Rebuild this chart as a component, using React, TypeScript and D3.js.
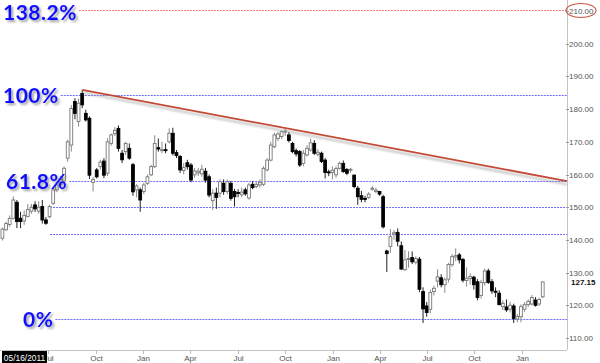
import React, { useEffect, useRef } from "react";
import * as d3 from "d3";

// weekly candles, first week starts Mon 2011-04-04
const firstWeek = new Date(2011, 3, 4);

const opens = [
  140.5, 143.1, 144.7, 146.6, 151.5, 146.6, 145.8, 147.2, 148.8, 150.7,
  148.8, 150.2, 146.1, 147.1, 151.2, 155.3, 157.0, 158.0, 165.0, 169.0,
  182.3, 176.2, 184.8, 178.7, 177.2, 157.6, 161.4, 162.4, 164.1, 160.4,
  169.5, 172.5, 174.1, 166.5, 167.0, 168.0, 163.0, 155.3, 155.3, 154.8,
  157.3, 159.9, 162.4, 168.2, 167.4, 167.6, 170.0, 172.6, 166.7, 165.5,
  161.2, 163.6, 162.9, 159.9, 160.5, 160.2, 161.0, 159.3, 152.0, 154.3,
  154.3, 157.3, 154.8, 157.3, 154.8, 154.5, 153.8, 155.3, 152.8, 157.0,
  156.3, 156.8, 157.0, 161.4, 164.4, 168.5, 171.0, 171.6, 173.0, 172.1,
  169.5, 167.3, 167.0, 163.4, 166.0, 167.5, 169.5, 166.2, 166.5, 164.4,
  160.8, 160.6, 159.9, 161.9, 163.4, 161.5, 161.4, 159.8, 155.8, 153.5,
  152.7, 153.0, 155.5, 154.8, 154.8, 153.2, 136.6, 138.0, 141.8, 142.3,
  138.2, 130.9, 134.0, 134.6, 133.2, 134.1, 124.2, 119.8, 118.8, 124.2,
  127.4, 128.4, 126.3, 128.0, 132.4, 134.8, 135.4, 134.0, 127.6, 128.2,
  128.6, 127.2, 123.0, 126.9, 130.5, 127.2, 124.3, 123.7, 119.6, 119.5,
  118.8, 119.8, 115.8, 116.5, 118.8, 120.2, 120.4, 121.6, 120.4, 122.6,
];
const highs = [
  143.8, 145.6, 147.5, 153.3, 152.2, 148.6, 149.0, 151.0, 151.0, 151.8,
  151.8, 152.2, 147.0, 150.8, 155.8, 157.8, 159.5, 162.5, 170.6, 181.2,
  183.3, 183.2, 185.8, 179.8, 177.8, 159.3, 162.0, 164.5, 165.0, 171.1,
  172.5, 174.5, 175.0, 167.5, 170.0, 169.5, 163.5, 157.0, 156.0, 157.5,
  160.0, 163.0, 172.0, 171.0, 170.0, 169.5, 174.1, 174.3, 167.5, 166.0,
  163.5, 164.5, 163.5, 162.0, 162.0, 163.0, 162.0, 160.0, 155.5, 156.0,
  158.5, 158.5, 158.5, 158.0, 155.6, 155.5, 156.0, 156.0, 157.5, 158.0,
  157.8, 158.5, 162.5, 165.0, 170.0, 172.8, 173.0, 173.5, 174.3, 173.0,
  170.0, 168.0, 167.5, 167.5, 169.0, 171.0, 170.5, 167.8, 167.0, 165.0,
  161.5, 162.5, 162.5, 164.0, 164.3, 162.0, 162.0, 160.0, 156.5, 155.0,
  153.5, 154.6, 156.5, 156.0, 155.0, 153.8, 137.0, 143.3, 143.0, 143.5,
  139.5, 136.9, 136.5, 136.5, 135.0, 134.8, 125.5, 121.0, 124.8, 126.0,
  131.0, 129.5, 128.5, 133.0, 135.7, 137.4, 136.0, 134.5, 131.6, 129.8,
  129.0, 128.0, 127.8, 131.2, 131.2, 128.0, 125.5, 124.6, 121.5, 121.8,
  121.0, 120.5, 117.3, 120.3, 121.0, 121.8, 123.2, 122.5, 122.3, 127.3,
];
const lows = [
  139.8, 142.8, 144.0, 146.2, 143.6, 143.6, 144.6, 146.8, 148.0, 148.6,
  148.0, 145.0, 144.6, 146.6, 150.6, 154.6, 156.2, 157.3, 163.9, 167.0,
  176.9, 174.6, 180.3, 176.2, 158.6, 154.8, 158.8, 161.5, 158.9, 159.5,
  168.8, 171.8, 167.0, 163.5, 166.0, 164.5, 153.5, 153.0, 148.6, 154.0,
  156.8, 159.5, 162.0, 167.0, 166.5, 166.5, 169.5, 165.8, 165.0, 160.5,
  160.0, 161.5, 157.6, 159.0, 159.5, 159.3, 157.5, 153.0, 149.1, 149.5,
  153.0, 153.8, 154.0, 152.0, 150.2, 153.0, 153.0, 153.5, 152.3, 155.5,
  155.8, 156.0, 156.5, 161.0, 164.0, 168.0, 170.2, 170.8, 171.8, 169.8,
  166.5, 165.5, 162.3, 162.5, 165.5, 167.0, 166.0, 165.5, 163.5, 158.8,
  159.5, 158.5, 159.0, 161.5, 160.5, 159.8, 160.5, 155.8, 150.7, 151.5,
  151.5, 152.5, 155.0, 154.3, 153.5, 143.5, 130.2, 136.0, 140.0, 138.0,
  130.8, 130.5, 131.5, 132.6, 132.5, 124.0, 114.6, 116.5, 117.5, 123.0,
  125.5, 125.5, 123.8, 127.0, 131.8, 133.5, 132.8, 127.0, 125.7, 126.3,
  124.8, 121.5, 122.0, 126.0, 126.5, 123.5, 122.5, 120.0, 118.5, 118.0,
  117.8, 114.6, 114.8, 114.8, 118.0, 119.5, 120.0, 119.6, 119.8, 122.2,
];
const closes = [
  143.3, 145.0, 146.6, 152.2, 145.6, 145.6, 147.5, 149.3, 150.0, 149.5,
  150.0, 146.1, 145.1, 150.2, 155.3, 156.8, 158.5, 161.9, 170.0, 180.2,
  178.7, 181.8, 181.3, 176.7, 159.8, 158.5, 159.3, 163.8, 159.8, 170.0,
  172.1, 173.5, 168.0, 164.5, 169.5, 165.0, 154.7, 156.5, 152.2, 156.8,
  159.3, 162.4, 169.5, 167.8, 167.6, 167.4, 172.6, 166.5, 165.8, 161.4,
  162.1, 162.4, 158.3, 161.1, 161.0, 161.6, 158.3, 153.7, 154.3, 153.0,
  157.8, 154.8, 157.8, 152.7, 153.2, 154.2, 154.6, 154.1, 156.8, 156.0,
  157.0, 157.6, 161.9, 164.4, 169.0, 172.1, 172.4, 173.1, 173.3, 170.4,
  167.0, 166.3, 162.9, 166.5, 168.0, 169.7, 166.5, 166.8, 164.0, 160.6,
  160.6, 161.3, 161.8, 163.4, 160.9, 160.4, 161.6, 156.3, 153.2, 152.4,
  152.4, 154.0, 155.8, 155.2, 154.0, 144.0, 135.8, 141.0, 142.2, 139.6,
  131.1, 133.9, 134.3, 133.3, 134.3, 124.9, 118.9, 117.8, 123.9, 125.2,
  128.7, 126.3, 127.8, 132.5, 134.9, 135.2, 133.9, 127.7, 128.3, 128.8,
  126.3, 122.4, 127.0, 130.5, 127.0, 124.4, 124.0, 120.2, 120.6, 118.6,
  120.0, 116.0, 116.6, 119.6, 120.2, 121.2, 122.4, 120.0, 121.8, 127.15,
];

const priceTicks = [110, 120, 130, 140, 150, 160, 170, 180, 190, 200, 210];
const lastClose = 127.15;

// fibonacci retracement between the Jun 2013 low and the Sep 2011 high
const fibLow = 115.7;
const fibHigh = 184.2;
const fibStart = new Date(2011, 6, 5);
const fibLevels = [0, 0.382, 0.5, 0.618, 1, 1.382];
const fibLabels = ["0%", "", "", "61.8%", "100%", "138.2%"];

// resistance line drawn over the two highs
const trendA = { week: 22, price: 185.9 };
const trendB = { week: 78, price: 174.2 };

const cursorDate = "05/16/2011";

const W = 600;
const H = 363;

export default function App() {
  const ref = useRef<SVGSVGElement>(null);

  useEffect(() => {
    const svg = d3.select(ref.current);
    svg.selectAll("*").remove();

    const right = 567;
    const bottom = 350;
    const axisFont = "'Liberation Sans', Arial, sans-serif";

    const x = d3.scaleTime().domain([new Date(2011, 6, 1), new Date(2014, 0, 1)]).range([48, 522]);
    const y = d3.scaleLinear().domain([110, 210]).range([338, 11]);

    const data = opens.map((o, i) => ({
      date: d3.timeWeek.offset(firstWeek, i),
      open: o,
      high: highs[i],
      low: lows[i],
      close: closes[i],
    }));

    const defs = svg.append("defs");
    const shadow = defs.append("filter").attr("id", "lblShadow").attr("x", "-10%").attr("y", "-20%").attr("width", "130%").attr("height", "160%");
    shadow.append("feDropShadow").attr("dx", 2).attr("dy", 2).attr("stdDeviation", 1.2).attr("flood-color", "#555").attr("flood-opacity", 0.55);
    const blur = defs.append("filter").attr("id", "lineBlur");
    blur.append("feGaussianBlur").attr("stdDeviation", 1.2);

    svg.append("rect").attr("width", W).attr("height", H).attr("fill", "#fff");

    // axes frame
    svg.append("line").attr("x1", 0).attr("x2", right).attr("y1", bottom + 0.5).attr("y2", bottom + 0.5).attr("stroke", "#c4c4c4");
    svg.append("line").attr("x1", right + 0.5).attr("x2", right + 0.5).attr("y1", 0).attr("y2", bottom).attr("stroke", "#c4c4c4");

    // fib lines + labels
    const fibG = svg.append("g");
    const labG = svg.append("g");
    const labelX: Record<string, number> = { "0%": 23, "61.8%": 6, "100%": 3, "138.2%": 3 };
    fibLevels.forEach((lvl, k) => {
      const py = Math.round(y(fibLow + lvl * (fibHigh - fibLow))) + 0.5;
      let x1 = x(fibStart);
      const lab = fibLabels[k];
      if (lab) {
        const t = labG
          .append("text")
          .attr("x", labelX[lab])
          .attr("y", Math.max(py, 12))
          .attr("dy", "0.36em")
          .attr("font-family", "Lato, 'Noto Sans', sans-serif")
          .attr("font-weight", 700)
          .attr("font-size", 21)
          .attr("letter-spacing", 0.5)
          .attr("fill", "#1010ff")
          .attr("filter", "url(#lblShadow)")
          .text(lab);
        const bb = (t.node() as SVGTextElement).getBBox();
        x1 = Math.max(x1, bb.x + bb.width + 2);
      }
      fibG
        .append("line")
        .attr("x1", x1)
        .attr("x2", right)
        .attr("y1", py)
        .attr("y2", py)
        .attr("stroke", lvl > 1 ? "#ff7a7a" : "#6c6cff")
        .attr("stroke-width", 1)
        .attr("stroke-dasharray", "2,1");
    });

    // candles
    const cg = svg.append("g");
    data.forEach((d) => {
      const cx = x(d.date);
      const up = d.close >= d.open;
      cg.append("line")
        .attr("x1", cx)
        .attr("x2", cx)
        .attr("y1", y(d.high))
        .attr("y2", y(d.low))
        .attr("stroke", up ? "#8a8a8a" : "#222")
        .attr("stroke-width", 1);
      const top = y(Math.max(d.open, d.close));
      const h = Math.max(1, Math.abs(y(d.open) - y(d.close)));
      cg.append("rect")
        .attr("x", cx - 1.4)
        .attr("y", top)
        .attr("width", 2.8)
        .attr("height", h)
        .attr("fill", up ? "#fff" : "#000")
        .attr("stroke", up ? "#777" : "#000")
        .attr("stroke-width", 0.9);
    });

    // trend line
    const xa = x(d3.timeWeek.offset(firstWeek, trendA.week));
    const xb = x(d3.timeWeek.offset(firstWeek, trendB.week));
    const ya = y(trendA.price);
    const yb = y(trendB.price);
    const yEnd = ya + ((yb - ya) * (right - xa)) / (xb - xa);
    svg.append("line")
      .attr("x1", xa + 1).attr("y1", ya + 3).attr("x2", right).attr("y2", yEnd + 3)
      .attr("stroke", "#999").attr("stroke-width", 2).attr("opacity", 0.6).attr("filter", "url(#lineBlur)");
    svg.append("line")
      .attr("x1", xa).attr("y1", ya).attr("x2", right).attr("y2", yEnd)
      .attr("stroke", "#c24a36").attr("stroke-width", 1.8);

    // price axis
    const ya2 = svg.append("g").attr("font-family", axisFont).attr("font-size", 8).attr("fill", "#555");
    priceTicks.forEach((p) => {
      const py = Math.round(y(p)) + 0.5;
      ya2.append("line").attr("x1", right - 1).attr("x2", right + 2).attr("y1", py).attr("y2", py).attr("stroke", "#999");
      ya2.append("text").attr("x", right + 2).attr("y", py).attr("dy", "0.35em").text(p.toFixed(2));
    });
    svg.append("text")
      .attr("x", right + 4).attr("y", y(lastClose)).attr("dy", "0.35em")
      .attr("font-family", axisFont).attr("font-size", 8).attr("font-weight", 700).attr("fill", "#111")
      .text(lastClose.toFixed(2));
    svg.append("ellipse")
      .attr("cx", right + 14).attr("cy", y(210) - 0.5).attr("rx", 15).attr("ry", 7)
      .attr("fill", "none").attr("stroke", "#c8553f").attr("stroke-width", 1.1);

    // time axis (the first quarter tick sits under the cursor date box)
    const ticks = d3.timeMonth.every(3)!.range(x.invert(10), x.invert(right));
    const xg = svg.append("g").attr("font-family", axisFont).attr("font-size", 8).attr("fill", "#555");
    ticks.forEach((t) => {
      const tx = Math.round(x(t)) + 0.5;
      xg.append("line").attr("x1", tx).attr("x2", tx).attr("y1", bottom).attr("y2", bottom + 4).attr("stroke", "#bbb");
      xg.append("text").attr("x", tx).attr("y", bottom + 11).attr("text-anchor", "middle").text(d3.timeFormat("%b")(t));
    });

    // cursor date box
    svg.append("rect").attr("x", 2).attr("y", 351).attr("width", 45).attr("height", 12).attr("fill", "#000");
    svg.append("text")
      .attr("x", 24.5).attr("y", 360.5).attr("text-anchor", "middle")
      .attr("font-family", axisFont).attr("font-size", 8.4).attr("fill", "#fff")
      .text(cursorDate);

    labG.raise();
  }, []);

  return (
    <div style={{ position: "absolute", left: 0, top: 0 }}>
      <svg ref={ref} width={W} height={H} style={{ display: "block" }} />
    </div>
  );
}
